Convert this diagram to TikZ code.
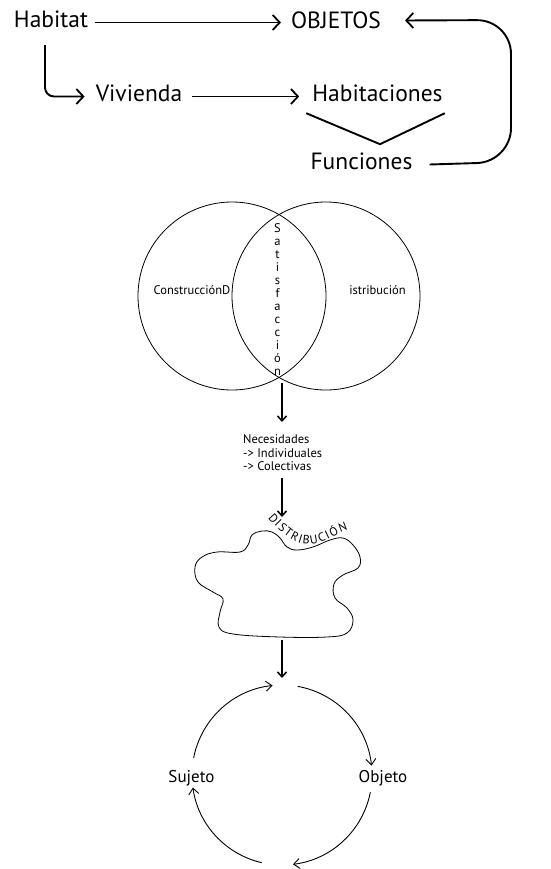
\documentclass[tikz,border=0pt]{standalone}
\usepackage{fontspec}
\setmainfont{PT Sans}
\usetikzlibrary{arrows.meta,decorations.text}
\begin{document}
\begin{tikzpicture}[x=1pt,y=-1pt,
  bigtxt/.style={inner sep=0pt, anchor=base, text height=11pt, text depth=0pt, font=\fontsize{23.5}{27}\selectfont},
  small/.style={inner sep=0pt, anchor=base, font=\fontsize{12.5}{13.6}\selectfont},
  cyctxt/.style={inner sep=0pt, anchor=base, font=\fontsize{17}{20}\selectfont},
  bigarrow/.style={line width=1.9pt, -{Straight Barb[length=7pt,width=15pt,line width=1.8pt]}},
  midarrow/.style={line width=1.9pt, -{Straight Barb[length=5pt,width=9pt,line width=1.5pt]}},
  cycarrow/.style={line width=0.9pt, -{Straight Barb[length=6pt,width=10pt,line width=0.9pt]}},
  thinline/.style={line width=0.8pt}
]
\useasboundingbox (0,0) rectangle (550,869);

% ---------- top part ----------
\node[bigtxt] (habitat) at (51,28) {Habitat};
\node[bigtxt] (objetos) at (336,29) {OBJETOS};
\node[bigtxt] (vivienda) at (139,102) {Vivienda};
\node[bigtxt] (habitaciones) at (377.5,102) {Habitaciones};
\node[bigtxt] (funciones) at (361.5,170) {Funciones};

\draw[bigarrow] ([xshift=7pt]habitat.east) -- ([xshift=-10pt]habitat.east -| objetos.west);
\draw[bigarrow, rounded corners=9pt] ([xshift=-6pt,yshift=-17pt]habitat.south) |- ([xshift=-11pt]vivienda.west);
\draw[bigarrow] ([xshift=10pt]vivienda.east) -- ([xshift=-13pt]vivienda.east -| habitaciones.west);
\draw[line width=1.9pt] ([xshift=-6pt,yshift=-11pt]habitaciones.south west)
   -- ([xshift=2.5pt,yshift=-42pt]habitaciones.south)
   -- ([xshift=2pt,yshift=-11pt]habitaciones.south east);
\draw[bigarrow, rounded corners=34pt] ([xshift=17pt]funciones.east) -- (511,162) -- (511,20) -- ([xshift=24pt,yshift=3pt]objetos.east);

% ---------- Venn ----------
\node[circle, draw, thinline, minimum size=188pt, inner sep=0pt] (cleft) at (232,296) {};
\node[circle, draw, thinline, minimum size=188pt, inner sep=0pt] (cright) at (326,296) {};
\node[small] (constr) at (192,294) {ConstrucciónD};
\node[small] (distr) at (377.5,294) {istribución};
\foreach \l [count=\i] in {S,a,t,i,s,f,a,c,c,i,ó,n}
  \node[small] (sat\i) at (277.5,{232+13*(\i-1)}) {\l};

% ---------- Necesidades ----------
\node[inner sep=0pt, anchor=north west, align=left, font=\fontsize{12.5}{13.7}\selectfont] (nec) at (243,434.5)
  {Necesidades\\-> Individuales\\-> Colectivas};
\coordinate (a1s) at (282,383);
\coordinate (a1e) at (282,422);
\draw[midarrow] (a1s) -- (a1e);
\coordinate (a2s) at (282,478);
\coordinate (a2e) at (282,517);
\draw[midarrow] (a2s) -- (a2e);

% ---------- blob ----------
\draw[thinline] plot[smooth cycle, tension=0.65] coordinates {
  (252,535) (262,531) (272,532) (280,538) (287,547) (297,550) (313,547)
  (330,540) (343,538) (353,545) (360,557) (358,568) (343,575) (334,584)
  (335,598) (347,608) (353,620) (347,633) (327,637) (280,637) (233,634)
  (219,627) (220,612) (223,599) (213,592) (198,582) (195,567) (202,557)
  (217,552) (240,552) (248,545)};
\path[decorate, decoration={text along path, text align=fit to path,
   text={|\fontsize{12}{13}\selectfont|DISTRIBUCIÓN}}]
  (268,518) .. controls (282,534) and (294,544) .. (309,544) .. controls (324,544) and (336,533) .. (348,530);

\coordinate (a3s) at (282,640);
\coordinate (a3e) at (282,678);
\draw[midarrow] (a3s) -- (a3e);

% ---------- cycle ----------
\coordinate (cyc) at (282,775);
\node[cyctxt] (sujeto) at (191.5,782) {Sujeto};
\node[cyctxt] (objeto) at (383,782) {Objeto};
\draw[cycarrow] ([shift={(-169:90)}]cyc) arc[start angle=-169, end angle=-96, radius=90];
\draw[cycarrow] ([shift={(-80:90)}]cyc) arc[start angle=-80, end angle=-6, radius=90];
\draw[cycarrow] ([shift={(11:90)}]cyc) arc[start angle=11, end angle=83, radius=90];
\draw[cycarrow] ([shift={(103:90)}]cyc) arc[start angle=103, end angle=172, radius=90];
\end{tikzpicture}
\end{document}
